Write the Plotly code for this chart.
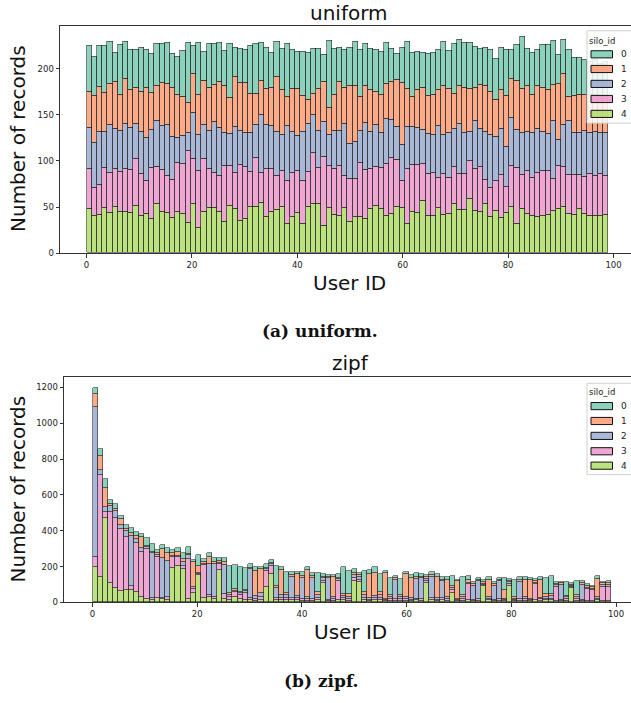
import plotly.graph_objects as go

# ---------------- data ----------------
user_ids = list(range(100))
silo_ids = ["0", "1", "2", "3", "4"]
bin_width = 0.99

uniform_s0 = [50, 42, 45, 51, 45, 31, 54, 40, 43, 42, 48, 41, 42, 45, 42, 44, 37, 41, 49,
              65, 31, 56, 31, 48, 44, 42, 38, 59, 32,
              37, 36, 52, 54, 41, 45, 38, 38, 45, 57, 43, 40, 47, 51, 49, 44, 29, 72, 50, 37,
              42, 42, 48, 51, 45, 45, 46, 46, 44, 36, 28, 38, 51, 48,
              41, 38, 45, 45, 43, 47, 41, 54, 50, 49, 50, 45, 39, 42, 45, 45, 46, 49, 31, 39,
              57, 41, 45, 39, 47, 49, 47, 31, 37, 50, 41, 40, 38, 36, 38, 35, 37]
uniform_s1 = [39, 51, 48, 42, 45, 51, 39, 49, 41, 39, 43, 54, 40, 39, 47, 45, 53, 47, 43,
              33, 42, 44, 48, 46, 41, 50, 50, 39, 54,
              52, 54, 43, 34, 37, 39, 41, 59, 49, 32, 46, 51, 39, 26, 23, 45, 44, 30, 39, 53,
              39, 62, 60, 37, 41, 45, 36, 41, 38, 41, 51, 68, 41, 32,
              41, 45, 42, 44, 39, 54, 48, 38, 41, 49, 46, 35, 48, 49, 47, 40, 42, 56, 42, 53,
              47, 49, 41, 47, 47, 48, 40, 61, 55, 26, 40, 41, 39, 41, 40, 39, 39]
uniform_s2 = [44, 49, 58, 39, 52, 43, 45, 48, 46, 38, 46, 46, 41, 49, 48, 55, 46, 27, 30,
              19, 50, 39, 37, 42, 55, 52, 36, 34, 50,
              37, 37, 42, 36, 63, 48, 47, 48, 39, 59, 45, 38, 53, 52, 41, 40, 38, 33, 42, 38,
              56, 38, 40, 35, 51, 41, 45, 38, 49, 42, 36, 39, 45, 41,
              40, 37, 43, 41, 56, 42, 48, 41, 54, 44, 32, 52, 41, 52, 57, 48, 50, 43, 52, 41,
              46, 43, 49, 48, 43, 40, 62, 28, 45, 59, 46, 46, 50, 45, 48, 45, 47]
uniform_s3 = [44, 31, 32, 44, 43, 42, 43, 47, 46, 51, 45, 36, 56, 41, 45, 40, 42, 53, 54,
              78, 48, 62, 57, 42, 38, 39, 61, 44, 39,
              61, 57, 38, 53, 32, 52, 46, 37, 39, 47, 48, 45, 47, 38, 56, 40, 74, 46, 49, 54,
              35, 47, 42, 59, 53, 43, 43, 45, 56, 60, 51, 29, 60, 51,
              52, 40, 45, 47, 33, 44, 39, 40, 39, 39, 41, 46, 49, 26, 32, 32, 47, 28, 45, 61,
              37, 46, 41, 48, 48, 47, 35, 47, 44, 42, 43, 37, 40, 45, 43, 46, 42]
uniform_s4 = [48, 40, 42, 49, 44, 50, 45, 45, 44, 51, 41, 43, 37, 53, 45, 44, 38, 45, 43,
              33, 54, 27, 45, 49, 49, 45, 34, 51, 48,
              35, 37, 50, 50, 55, 39, 45, 47, 50, 32, 39, 44, 32, 50, 53, 53, 30, 49, 42, 41,
              49, 34, 39, 39, 37, 48, 51, 48, 41, 43, 50, 49, 32, 45,
              44, 57, 41, 40, 49, 42, 43, 54, 47, 47, 59, 46, 45, 54, 39, 46, 38, 44, 50, 32,
              48, 43, 41, 39, 41, 42, 46, 48, 50, 43, 42, 48, 43, 41, 41, 40, 42]

zipf_s0 = [37, 37, 52, 17, 26, 22, 19, 27, 23, 20, 46, 41, 20, 21, 25, 17, 21, 33, 37, 10,
           63, 20, 25, 21, 18, 21, 150, 134, 138, 120, 20, 20, 14, 20, 15, 110, 15, 120, 20, 15,
           20, 15, 15, 107, 15, 12, 15, 20, 148, 130, 20, 12, 120, 20, 30, 100, 15, 95, 12, 90,
           12, 15, 20, 15, 12, 15, 15, 12, 12, 60, 10, 100, 20, 10, 12, 15, 12, 12, 12, 70,
           10, 95, 15, 12, 10, 12, 15, 92, 100, 12, 10, 75, 10, 80, 10, 12, 10, 15, 10, 12]
zipf_s1 = [70, 78, 105, 15, 13, 31, 15, 15, 15, 61, 6, 10, 10, 50, 45, 18, 20, 18, 10, 142,
           40, 10, 40, 15, 10, 20, 10, 10, 8, 5, 8, 140, 135, 8, 8, 10, 140, 10, 10, 120,
           10, 148, 10, 15, 10, 8, 110, 10, 12, 15, 15, 12, 15, 135, 130, 20, 140, 10, 10, 12,
           125, 115, 12, 10, 10, 10, 120, 10, 100, 10, 100, 10, 15, 10, 8, 10, 95, 10, 8, 45,
           8, 10, 10, 100, 105, 10, 100, 12, 12, 8, 8, 10, 6, 12, 8, 10, 8, 100, 10, 8]
zipf_s2 = [840, 31, 30, 33, 37, 24, 30, 280, 22, 20, 13, 250, 10, 220, 200, 9, 10, 18, 20, 9,
           5, 5, 170, 180, 10, 160, 12, 8, 10, 12, 160, 14, 20, 10, 12, 55, 15, 15, 115, 12,
           118, 12, 120, 15, 12, 120, 10, 12, 12, 10, 15, 15, 15, 10, 12, 15, 8, 12, 110, 10,
           12, 8, 110, 115, 10, 120, 8, 95, 10, 10, 6, 10, 10, 80, 100, 6, 12, 75, 100, 8,
           10, 8, 95, 10, 8, 7, 8, 12, 12, 8, 85, 10, 6, 10, 85, 8, 6, 10, 8, 10]
zipf_s3 = [55, 569, 31, 395, 391, 343, 300, 20, 273, 250, 277, 10, 230, 10, 20, 59, 46, 18, 222, 24,
           5, 185, 10, 10, 30, 30, 20, 25, 20, 40, 14, 12, 15, 88, 45, 12, 14, 15, 15, 13,
           10, 11, 10, 15, 15, 8, 12, 105, 12, 12, 15, 13, 15, 8, 12, 12, 7, 8, 10, 10,
           10, 8, 10, 10, 12, 12, 8, 8, 10, 15, 5, 10, 89, 6, 8, 4, 10, 8, 8, 7,
           11, 7, 10, 10, 7, 90, 8, 10, 10, 80, 6, 8, 5, 10, 8, 65, 60, 10, 80, 78]
zipf_s4 = [194, 139, 471, 107, 79, 63, 65, 70, 59, 31, 18, 12, 22, 15, 10, 190, 203, 185, 18, 50,
           150, 22, 30, 20, 180, 15, 10, 30, 20, 11, 10, 8, 14, 86, 155, 12, 10, 10, 10, 10,
           8, 8, 7, 10, 105, 5, 6, 10, 10, 8, 120, 110, 10, 6, 10, 10, 5, 8, 6, 7,
           7, 5, 10, 7, 107, 9, 6, 13, 6, 53, 4, 8, 10, 5, 7, 90, 9, 6, 7, 5,
           90, 5, 8, 6, 5, 10, 7, 9, 10, 6, 5, 8, 80, 8, 5, 6, 8, 9, 6, 8]

uniform_ticks = [0, 50, 100, 150, 200]
zipf_ticks = [0, 200, 400, 600, 800, 1000, 1200]
x_ticks = [0, 20, 40, 60, 80, 100]

# ---------------- style ----------------
W, H = 631, 703
fill = {"0": "rgba(102,194,165,0.75)", "1": "rgba(252,141,98,0.75)",
        "2": "rgba(141,160,203,0.75)", "3": "rgba(231,138,195,0.75)",
        "4": "rgba(166,216,84,0.75)"}
edge = "rgba(30,30,30,0.7)"
FONT = "DejaVu Sans"


def px(x):
    return x / W


def py(y):
    return 1 - y / H


centers = [bin_width * (u + 0.5) for u in user_ids]
uniform = {"0": uniform_s0, "1": uniform_s1, "2": uniform_s2, "3": uniform_s3, "4": uniform_s4}
zipf = {"0": zipf_s0, "1": zipf_s1, "2": zipf_s2, "3": zipf_s3, "4": zipf_s4}

fig = go.Figure()
for data, xa, ya in [(uniform, "x", "y"), (zipf, "x2", "y2")]:
    for s in ["4", "3", "2", "1", "0"]:
        fig.add_trace(go.Bar(
            x=centers, y=data[s], width=bin_width, xaxis=xa, yaxis=ya,
            marker=dict(color=fill[s], line=dict(color=edge, width=0.8)),
            showlegend=False, name=s))

axis_common = dict(showgrid=False, zeroline=False, showline=True, linecolor="#333",
                   linewidth=1, ticks="outside", ticklen=3.5, tickwidth=0.8,
                   tickcolor="#333", tickfont=dict(family=FONT, size=8.5, color="#222"))

# top axes: left 60, 0 at 86.5, 5.27 px/unit; top 26, zero 255
fig.update_layout(
    xaxis=dict(domain=[px(60), 1], range=[(60 - 86.5) / 5.27, (631 - 86.5) / 5.27],
               tickvals=x_ticks, mirror=True, anchor="y", **axis_common),
    yaxis=dict(domain=[py(255), py(26)], range=[0, (255 - 26) / 0.929],
               tickvals=uniform_ticks, anchor="x", **axis_common),
    xaxis2=dict(domain=[px(64), 1], range=[(64 - 92.5) / 5.235, (631 - 92.5) / 5.235],
                tickvals=x_ticks, mirror=True, anchor="y2", **axis_common),
    yaxis2=dict(domain=[py(606.7), py(380)], range=[0, (606.7 - 380) / 0.1805],
                tickvals=zipf_ticks, anchor="x2", **axis_common),
    barmode="stack", bargap=0,
    width=W, height=H, margin=dict(l=0, r=0, t=0, b=0),
    paper_bgcolor="white", plot_bgcolor="white", showlegend=False,
)

ann = []
shapes = []


def text(x, y, t, size, family=FONT, angle=0, color="#111", bold=False):
    ann.append(dict(x=px(x), y=py(y), xref="paper", yref="paper", text=("<b>%s</b>" % t) if bold else t,
                    showarrow=False, textangle=angle, xanchor="center", yanchor="middle",
                    font=dict(family=family, size=size, color=color)))


# titles & labels
text(349, 13, "uniform", 20)
text(349, 285, "User ID", 20)
text(18, 140, "Number of records", 20, angle=-90)
text(320, 333, "(a) uniform.", 17, family="DejaVu Serif", bold=True)

text(350, 366, "zipf", 20)
text(350, 637, "User ID", 20)
text(18, 493, "Number of records", 20, angle=-90)
text(321, 686, "(b) zipf.", 17, family="DejaVu Serif", bold=True)

# custom legends
for top, bottom, title_y, rows in [(31, 124, 41, [54.7, 69.5, 84.5, 99.7, 114.7]),
                                   (386, 478, 395, [409, 424, 439, 454.5, 469])]:
    shapes.append(dict(type="rect", xref="paper", yref="paper",
                       x0=px(587), x1=px(645), y0=py(bottom), y1=py(top),
                       line=dict(color="#d0d0d0", width=1), fillcolor="rgba(255,255,255,0.85)"))
    text(602, title_y, "silo_id", 8.5, color="#222")
    for s, yc in zip(silo_ids, rows):
        shapes.append(dict(type="rect", xref="paper", yref="paper",
                           x0=px(591), x1=px(612.5), y0=py(yc + 3.6), y1=py(yc - 3.6),
                           line=dict(color="#111", width=1), fillcolor=fill[s]))
        text(623.5, yc, s, 9, color="#222")

fig.update_layout(annotations=ann, shapes=shapes)
fig.write_html("out.html")
